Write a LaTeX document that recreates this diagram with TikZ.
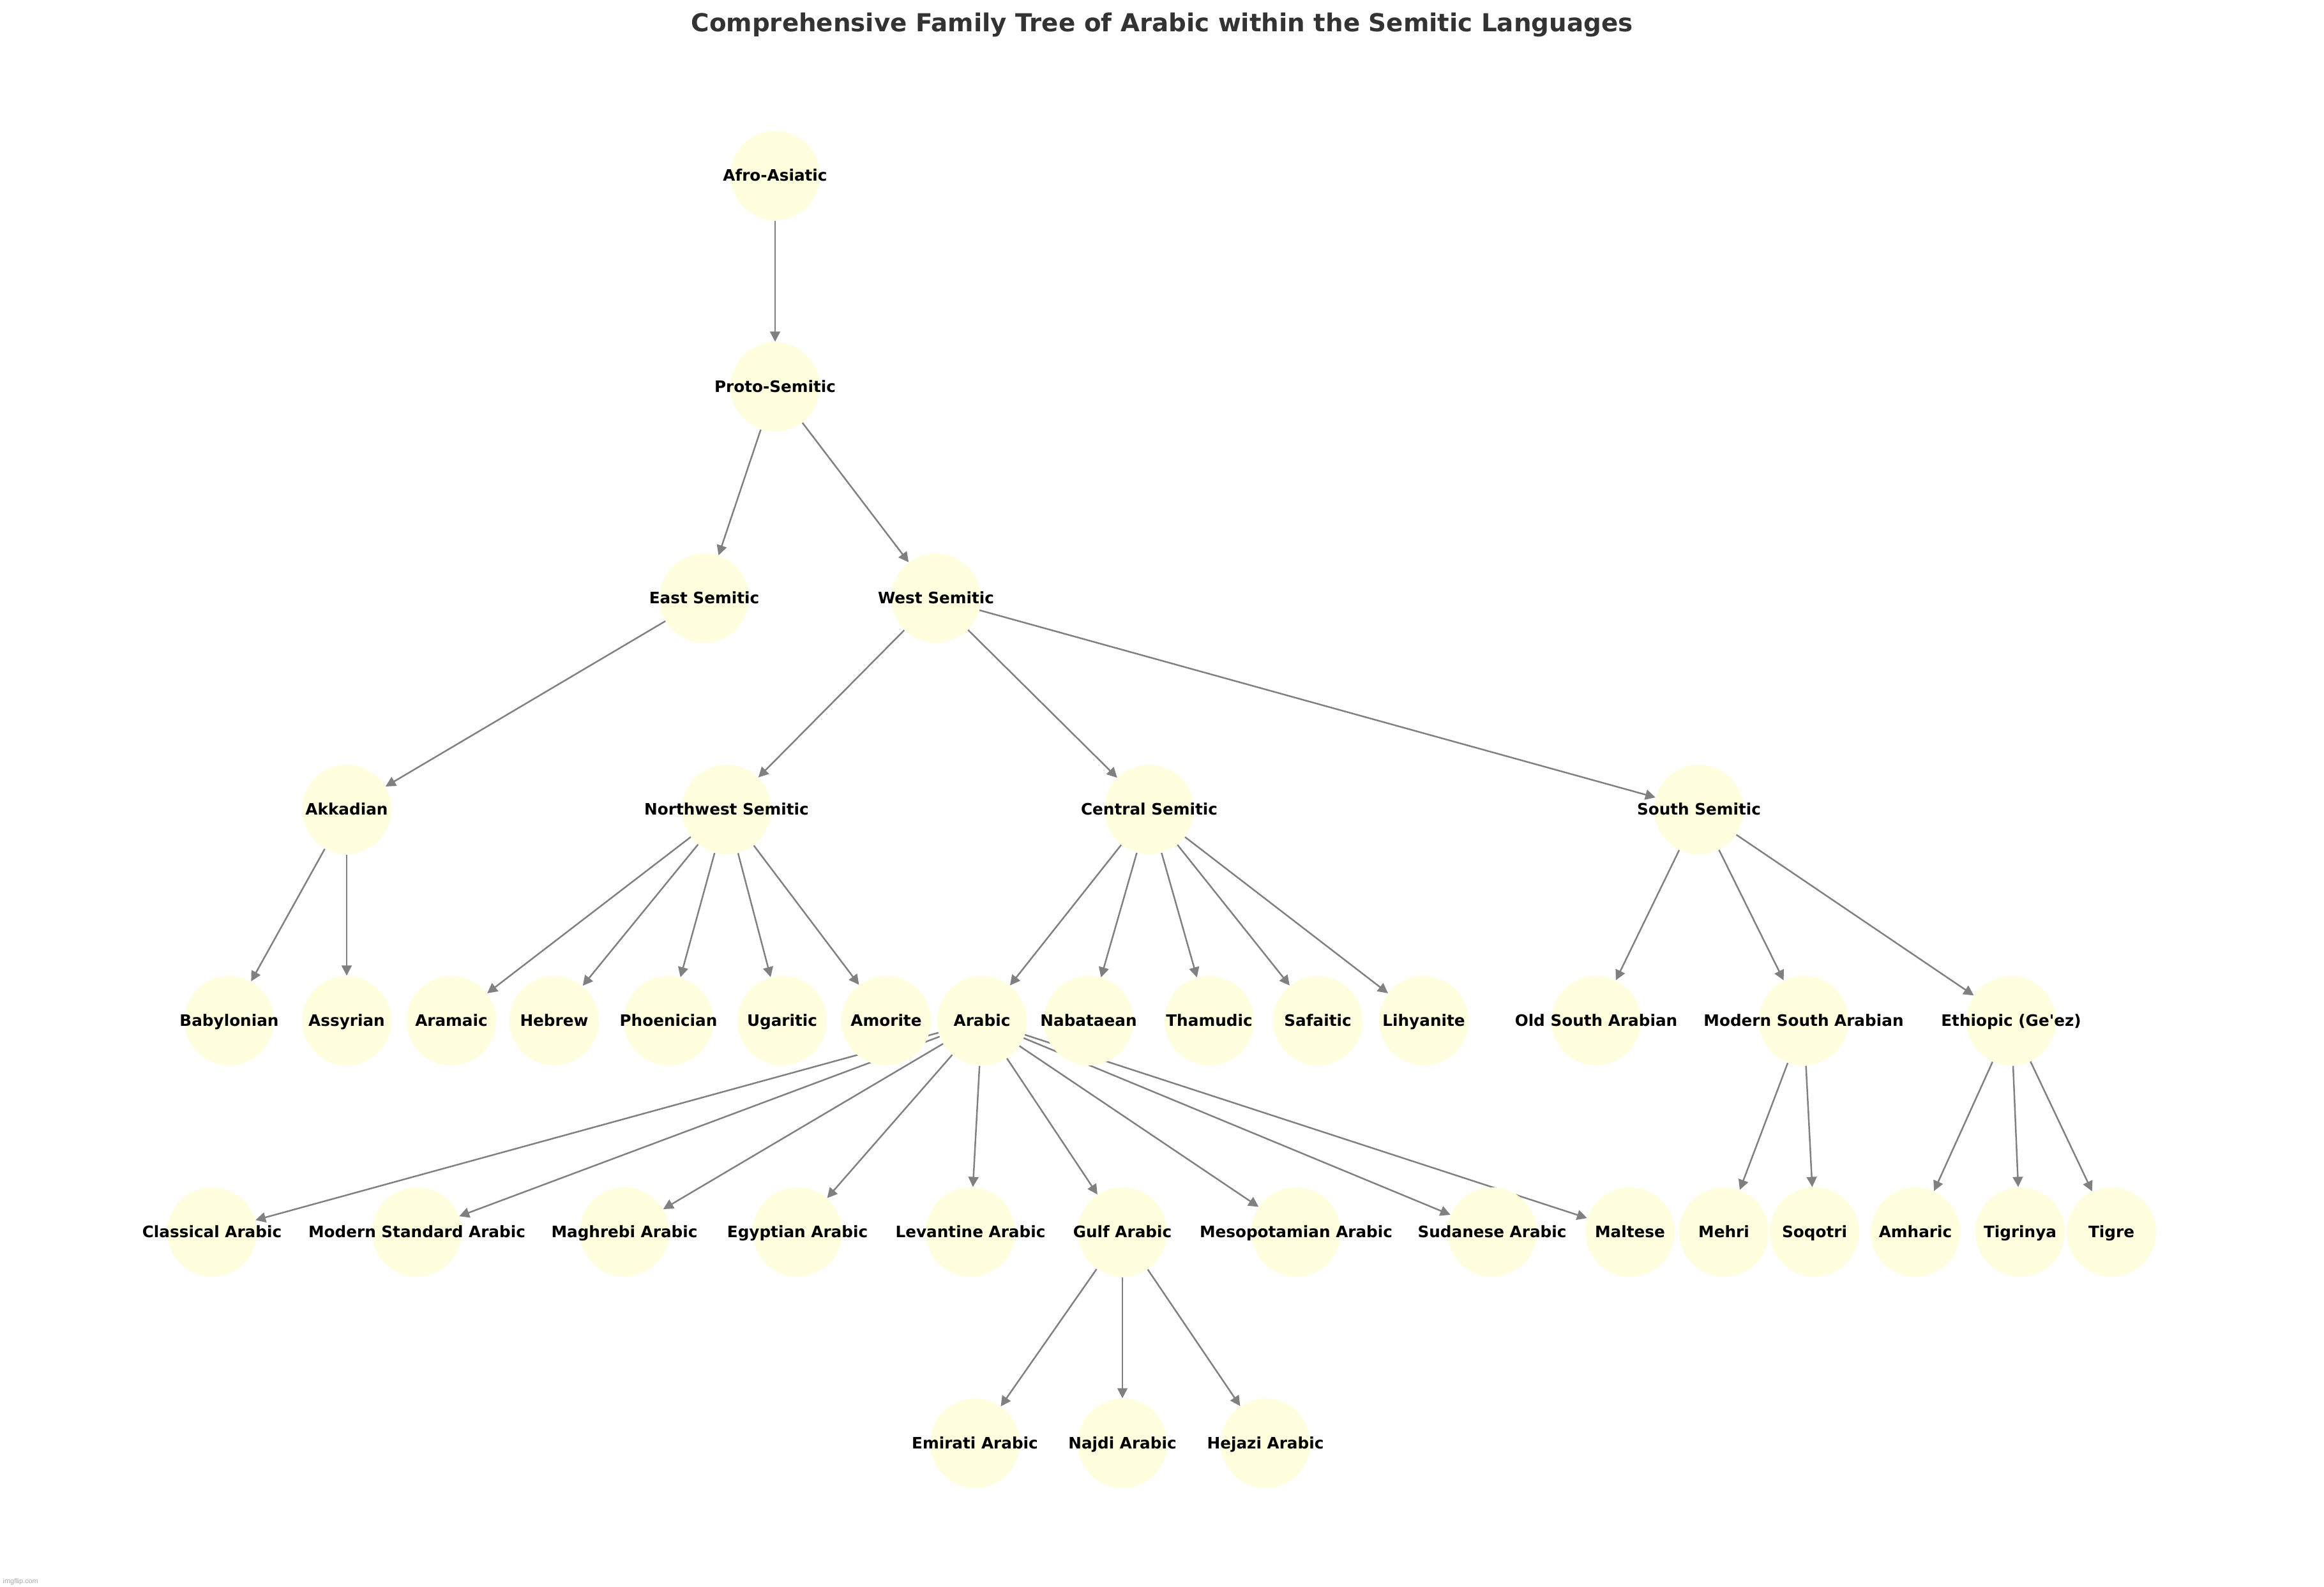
\documentclass[tikz,border=0pt]{standalone}
\usepackage{fontspec}
\setmainfont{DejaVu Sans}
\newfontfamily\markfont{Liberation Sans}
\usetikzlibrary{arrows.meta,backgrounds}

\definecolor{lightyellow}{HTML}{FFFFE0}
\definecolor{edgegray}{HTML}{808080}
\definecolor{titlegray}{HTML}{333333}
\definecolor{markgray}{HTML}{AAAAAA}
\tikzstyle{langstyle} = [circle, 
minimum size=1.4cm, 
inner sep=0pt,
text centered,
text height=5.1pt,
text depth=0pt,
fill=lightyellow,
font=\bfseries\fontsize{7.03}{8.4}\selectfont]
\tikzstyle{titlestyle} = [anchor=base, 
text=titlegray, 
font=\bfseries\fontsize{11.04}{13.2}\selectfont]
\tikzstyle{markstyle} = [anchor=base west, 
inner sep=0pt,
text=markgray, 
font=\markfont\fontsize{3.1}{3.7}\selectfont]
\tikzstyle{arrow} = [line width=0.7pt, draw=edgegray, -{Triangle[length=4.5pt,width=4.5pt]}]
\newcommand{\langname}[1]{\makebox[0pt]{#1}}

\begin{document}
\begin{tikzpicture}
\begin{scope}[on background layer]
\fill[white] (0,0) rectangle (36.40,-24.86);
\end{scope}

\node (title) [titlestyle] at (18.20,-0.50) {Comprehensive Family Tree of Arabic within the Semitic Languages};

\node (afroasiatic) [langstyle] at (12.14,-2.75) {\langname{Afro-Asiatic}};
\node (protosemitic) [langstyle] at (12.14,-6.06) {\langname{Proto-Semitic}};

\node (eastsemitic) [langstyle] at (11.03,-9.37) {\langname{East Semitic}};
\node (westsemitic) [langstyle] at (14.66,-9.37) {\langname{West Semitic}};

\node (akkadian) [langstyle] at (5.43,-12.68) {\langname{Akkadian}};
\node (northwest) [langstyle] at (11.38,-12.68) {\langname{Northwest Semitic}};
\node (central) [langstyle] at (18.00,-12.68) {\langname{Central Semitic}};
\node (south) [langstyle] at (26.61,-12.68) {\langname{South Semitic}};

\node (babylonian) [langstyle] at (3.59,-15.99) {\langname{Babylonian}};
\node (assyrian) [langstyle] at (5.43,-15.99) {\langname{Assyrian}};
\node (aramaic) [langstyle] at (7.07,-15.99) {\langname{Aramaic}};
\node (hebrew) [langstyle] at (8.68,-15.99) {\langname{Hebrew}};
\node (phoenician) [langstyle] at (10.47,-15.99) {\langname{Phoenician}};
\node (ugaritic) [langstyle] at (12.25,-15.99) {\langname{Ugaritic}};
\node (amorite) [langstyle] at (13.88,-15.99) {\langname{Amorite}};
\node (arabic) [langstyle] at (15.38,-15.99) {\langname{Arabic}};
\node (nabataean) [langstyle] at (17.05,-15.99) {\langname{Nabataean}};
\node (thamudic) [langstyle] at (18.94,-15.99) {\langname{Thamudic}};
\node (safaitic) [langstyle] at (20.64,-15.99) {\langname{Safaitic}};
\node (lihyanite) [langstyle] at (22.30,-15.99) {\langname{Lihyanite}};
\node (oldsa) [langstyle] at (25.00,-15.99) {\langname{Old South Arabian}};
\node (modernsa) [langstyle] at (28.25,-15.99) {\langname{Modern South Arabian}};
\node (ethiopic) [langstyle] at (31.50,-15.99) {\langname{Ethiopic (Ge\textquotesingle ez)}};

\node (classical) [langstyle] at (3.32,-19.30) {\langname{Classical Arabic}};
\node (msa) [langstyle] at (6.53,-19.30) {\langname{Modern Standard Arabic}};
\node (maghrebi) [langstyle] at (9.78,-19.30) {\langname{Maghrebi Arabic}};
\node (egyptian) [langstyle] at (12.49,-19.30) {\langname{Egyptian Arabic}};
\node (levantine) [langstyle] at (15.20,-19.30) {\langname{Levantine Arabic}};
\node (gulf) [langstyle] at (17.58,-19.30) {\langname{Gulf Arabic}};
\node (mesopotamian) [langstyle] at (20.30,-19.30) {\langname{Mesopotamian Arabic}};
\node (sudanese) [langstyle] at (23.37,-19.30) {\langname{Sudanese Arabic}};
\node (maltese) [langstyle] at (25.53,-19.30) {\langname{Maltese}};
\node (mehri) [langstyle] at (27.00,-19.30) {\langname{Mehri}};
\node (soqotri) [langstyle] at (28.42,-19.30) {\langname{Soqotri}};
\node (amharic) [langstyle] at (30.00,-19.30) {\langname{Amharic}};
\node (tigrinya) [langstyle] at (31.64,-19.30) {\langname{Tigrinya}};
\node (tigre) [langstyle] at (33.07,-19.30) {\langname{Tigre}};

\node (emirati) [langstyle] at (15.27,-22.61) {\langname{Emirati Arabic}};
\node (najdi) [langstyle] at (17.58,-22.61) {\langname{Najdi Arabic}};
\node (hejazi) [langstyle] at (19.82,-22.61) {\langname{Hejazi Arabic}};

\node (watermark) [markstyle] at (0.04,-24.806) {imgflip.com};

% edges go under the circles
\begin{scope}[on background layer]
\draw [arrow] (afroasiatic) -- (protosemitic);
\draw [arrow] (protosemitic) -- (eastsemitic);
\draw [arrow] (protosemitic) -- (westsemitic);
\draw [arrow] (eastsemitic) -- (akkadian);
\draw [arrow] (westsemitic) -- (northwest);
\draw [arrow] (westsemitic) -- (central);
\draw [arrow] (westsemitic) -- (south);
\draw [arrow] (akkadian) -- (babylonian);
\draw [arrow] (akkadian) -- (assyrian);
\draw [arrow] (northwest) -- (aramaic);
\draw [arrow] (northwest) -- (hebrew);
\draw [arrow] (northwest) -- (phoenician);
\draw [arrow] (northwest) -- (ugaritic);
\draw [arrow] (northwest) -- (amorite);
\draw [arrow] (central) -- (arabic);
\draw [arrow] (central) -- (nabataean);
\draw [arrow] (central) -- (thamudic);
\draw [arrow] (central) -- (safaitic);
\draw [arrow] (central) -- (lihyanite);
\draw [arrow] (south) -- (oldsa);
\draw [arrow] (south) -- (modernsa);
\draw [arrow] (south) -- (ethiopic);
\draw [arrow] (arabic) -- (classical);
\draw [arrow] (arabic) -- (msa);
\draw [arrow] (arabic) -- (maghrebi);
\draw [arrow] (arabic) -- (egyptian);
\draw [arrow] (arabic) -- (levantine);
\draw [arrow] (arabic) -- (gulf);
\draw [arrow] (arabic) -- (mesopotamian);
\draw [arrow] (arabic) -- (sudanese);
\draw [arrow] (arabic) -- (maltese);
\draw [arrow] (gulf) -- (emirati);
\draw [arrow] (gulf) -- (najdi);
\draw [arrow] (gulf) -- (hejazi);
\draw [arrow] (modernsa) -- (mehri);
\draw [arrow] (modernsa) -- (soqotri);
\draw [arrow] (ethiopic) -- (amharic);
\draw [arrow] (ethiopic) -- (tigrinya);
\draw [arrow] (ethiopic) -- (tigre);
\end{scope}
\end{tikzpicture}
\end{document}
